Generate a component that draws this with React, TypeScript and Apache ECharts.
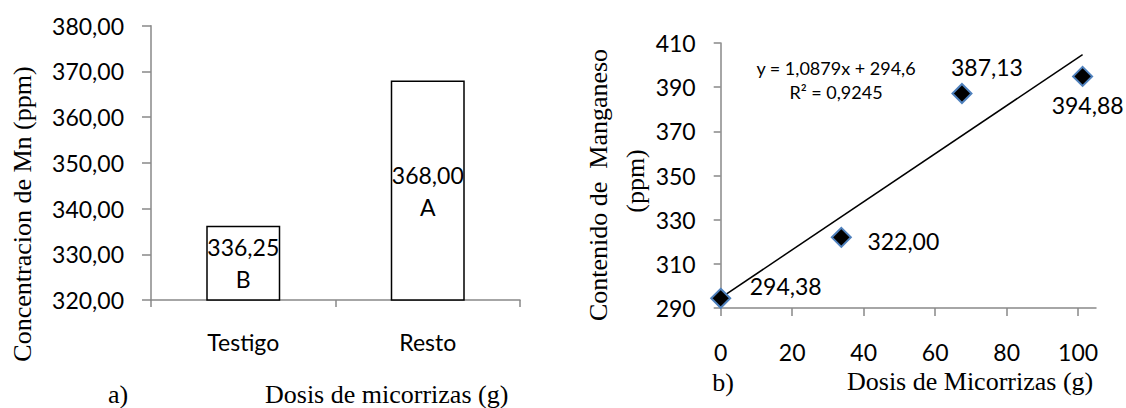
import React, { useEffect, useRef } from "react";
import * as echarts from "echarts";

// ---- Chart a) data ----
const barCategories = ["Testigo", "Resto"];
const barValues = [336.25, 368.0];
const barLetters = ["B", "A"];

// ---- Chart b) data ----
const doseValues = [0, 33.75, 67.5, 101.25];
const mnValues = [294.38, 322.0, 387.13, 394.88];
const trendSlope = 1.0879;
const trendIntercept = 294.6;
const trendR2 = 0.9245;
const xTicksB = [0, 20, 40, 60, 80, 100];

const fmtComma = (v: number, d: number) => v.toFixed(d).replace(".", ",");

const SANS = "Lato, 'Open Sans', sans-serif";
const SERIF = "'Liberation Serif', 'Times New Roman', serif";
const AXIS_COLOR = "#898989";
const FS = 23;

// label offsets for scatter points (style)
const pointLabelOffsets: [number, number][] = [
  [65, -12],
  [62, 4],
  [25, -27],
  [5, 29],
];

export default function App() {
  const ref = useRef<HTMLDivElement>(null);

  useEffect(() => {
    if (!ref.current) return;
    const chart = echarts.init(ref.current, null, { renderer: "svg" });

    const trendEndX = doseValues[doseValues.length - 1];
    const trendData = [
      [0, trendIntercept],
      [trendEndX, trendIntercept + trendSlope * trendEndX],
    ];

    const axisLineStyle = { color: AXIS_COLOR, width: 1.5 };

    const option: any = {
      animation: false,
      backgroundColor: "#ffffff",
      grid: [
        { left: 151, top: 25.7, width: 369, height: 274.3 },
        { left: 720.7, top: 43, width: 375.3, height: 265 },
      ],
      xAxis: [
        {
          gridIndex: 0,
          type: "category",
          data: barCategories,
          boundaryGap: true,
          axisLine: { lineStyle: axisLineStyle },
          axisTick: { show: true, length: 7, lineStyle: axisLineStyle },
          axisLabel: { margin: 30, fontSize: FS, fontFamily: SANS, color: "#000" },
          splitLine: { show: false },
        },
        {
          gridIndex: 1,
          type: "value",
          min: 0,
          max: 105,
          interval: 20,
          axisLine: { onZero: false, lineStyle: axisLineStyle },
          axisTick: { show: true, length: 8, lineStyle: axisLineStyle, customValues: xTicksB },
          axisLabel: {
            margin: 32,
            fontSize: FS,
            fontFamily: SANS,
            color: "#000",
            customValues: xTicksB,
          },
          splitLine: { show: false },
        },
      ],
      yAxis: [
        {
          gridIndex: 0,
          type: "value",
          min: 320,
          max: 380,
          interval: 10,
          axisLine: { show: true, lineStyle: axisLineStyle },
          axisTick: { show: true, length: 9, lineStyle: axisLineStyle },
          axisLabel: {
            margin: 27,
            fontSize: FS,
            fontFamily: SANS,
            color: "#000",
            formatter: (v: number) => fmtComma(v, 2),
          },
          splitLine: { show: false },
        },
        {
          gridIndex: 1,
          type: "value",
          min: 290,
          max: 410,
          interval: 20,
          axisLine: { show: true, onZero: false, lineStyle: axisLineStyle },
          axisTick: { show: true, length: 7, lineStyle: axisLineStyle },
          axisLabel: { margin: 25, fontSize: FS, fontFamily: SANS, color: "#000" },
          splitLine: { show: false },
        },
      ],
      series: [
        {
          type: "bar",
          xAxisIndex: 0,
          yAxisIndex: 0,
          barWidth: 74,
          data: barValues.map((v, i) => ({
            value: v,
            label: {
              formatter: fmtComma(v, 2) + "\n" + barLetters[i],
            },
          })),
          itemStyle: { color: "#ffffff", borderColor: "#000000", borderWidth: 1.5 },
          label: {
            show: true,
            position: "inside",
            fontSize: FS,
            fontFamily: SANS,
            color: "#000",
            lineHeight: 32,
          },
        },
        {
          type: "line",
          xAxisIndex: 1,
          yAxisIndex: 1,
          data: trendData,
          symbol: "none",
          lineStyle: { color: "#000", width: 1.5 },
          z: 2,
        },
        {
          type: "scatter",
          xAxisIndex: 1,
          yAxisIndex: 1,
          symbol: "diamond",
          symbolSize: 19,
          itemStyle: { color: "#000", borderColor: "#4f81bd", borderWidth: 2, opacity: 1 },
          z: 3,
          data: doseValues.map((x, i) => ({
            value: [x, mnValues[i]],
            label: {
              show: true,
              position: "inside",
              offset: pointLabelOffsets[i],
              formatter: fmtComma(mnValues[i], 2),
              fontSize: FS,
              fontFamily: SANS,
              color: "#000",
            },
          })),
        },
      ],
      graphic: [
        {
          type: "text",
          x: 22,
          y: 214,
          rotation: Math.PI / 2,
          style: {
            text: "Concentracion de Mn (ppm)",
            font: `26px ${SERIF}`,
            fill: "#000",
            textAlign: "center",
            textVerticalAlign: "middle",
          },
        },
        {
          type: "text",
          x: 118,
          y: 394,
          style: {
            text: "a)",
            font: `26px ${SERIF}`,
            fill: "#000",
            textAlign: "center",
            textVerticalAlign: "middle",
          },
        },
        {
          type: "text",
          x: 265,
          y: 394,
          style: {
            text: "Dosis de micorrizas (g)",
            font: `26px ${SERIF}`,
            fill: "#000",
            textAlign: "left",
            textVerticalAlign: "middle",
          },
        },
        {
          type: "text",
          x: 598,
          y: 185,
          rotation: Math.PI / 2,
          style: {
            text: "Contenido de  Manganeso",
            font: `26px ${SERIF}`,
            fill: "#000",
            textAlign: "center",
            textVerticalAlign: "middle",
          },
        },
        {
          type: "text",
          x: 635,
          y: 181,
          rotation: Math.PI / 2,
          style: {
            text: "(ppm)",
            font: `26px ${SERIF}`,
            fill: "#000",
            textAlign: "center",
            textVerticalAlign: "middle",
          },
        },
        {
          type: "text",
          x: 723,
          y: 382,
          style: {
            text: "b)",
            font: `26px ${SERIF}`,
            fill: "#000",
            textAlign: "center",
            textVerticalAlign: "middle",
          },
        },
        {
          type: "text",
          x: 847,
          y: 381,
          style: {
            text: "Dosis de Micorrizas (g)",
            font: `26px ${SERIF}`,
            fill: "#000",
            textAlign: "left",
            textVerticalAlign: "middle",
          },
        },
        {
          type: "text",
          x: 836,
          y: 68,
          style: {
            text: `y = ${fmtComma(trendSlope, 4)}x + ${fmtComma(trendIntercept, 1)}`,
            font: `18px ${SANS}`,
            fill: "#000",
            textAlign: "center",
            textVerticalAlign: "middle",
          },
        },
        {
          type: "text",
          x: 836,
          y: 92,
          style: {
            text: `R² = ${fmtComma(trendR2, 4)}`,
            font: `18px ${SANS}`,
            fill: "#000",
            textAlign: "center",
            textVerticalAlign: "middle",
          },
        },
      ],
    };

    chart.setOption(option);
    return () => chart.dispose();
  }, []);

  return (
    <div
      ref={ref}
      style={{ position: "fixed", left: 0, top: 0, width: 1126, height: 408, background: "#fff" }}
    />
  );
}
